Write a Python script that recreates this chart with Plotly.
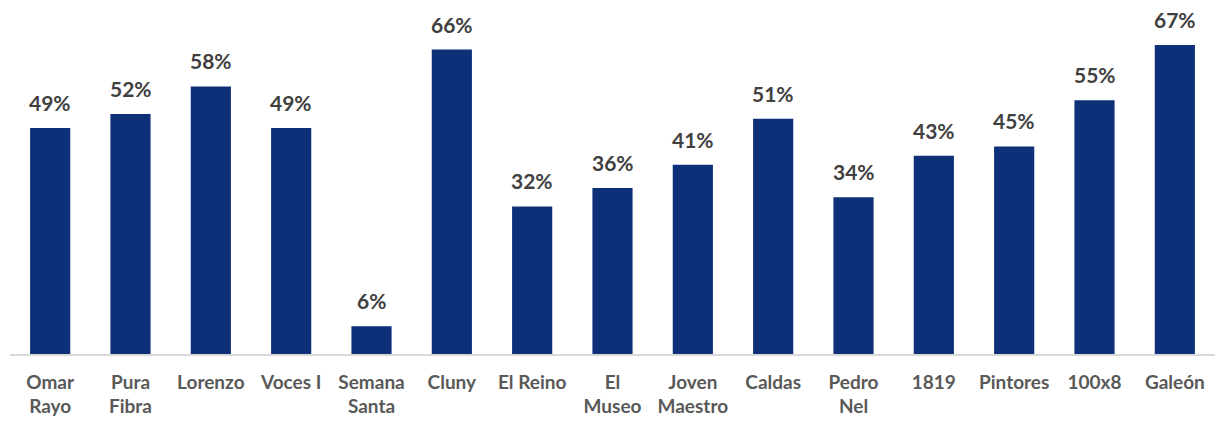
import plotly.graph_objects as go

# Share per project (percent)
categories = ["Omar<br>Rayo", "Pura<br>Fibra", "Lorenzo", "Voces I", "Semana<br>Santa",
              "Cluny", "El Reino", "El<br>Museo", "Joven<br>Maestro", "Caldas",
              "Pedro<br>Nel", "1819", "Pintores", "100x8", "Galeón"]
values = [49, 52, 58, 49, 6, 66, 32, 36, 41, 51, 34, 43, 45, 55, 67]

BAR_COLOR = "#0D3079"
TEXT_COLOR = "#404040"
FONT = "Lato, 'Open Sans', sans-serif"

fig = go.Figure()
fig.add_trace(go.Bar(
    x=categories,
    y=values,
    marker=dict(color=BAR_COLOR, line=dict(width=0)),
    hoverinfo="skip",
))

# Value labels above each bar (positioned by category index)
for i, v in enumerate(values):
    fig.add_annotation(
        x=i, y=v, text=f"<b>{v}%</b>", showarrow=False,
        yanchor="bottom", yshift=11,
        font=dict(family=FONT, size=21, color=TEXT_COLOR),
    )

fig.update_layout(
    width=1225, height=428,
    margin=dict(l=10, r=10, t=20, b=74),
    paper_bgcolor="white", plot_bgcolor="white",
    bargap=0.5,
    showlegend=False,
    font=dict(family=FONT, color=TEXT_COLOR),
    xaxis=dict(
        type="category",
        range=[-0.5, len(categories) - 0.5],
        showline=True, linecolor="#D9D9D9", linewidth=1.5,
        showgrid=False, ticks="", tickangle=0,
        tickfont=dict(family=FONT, size=19, color="#595959", weight="bold"),
        ticklabelstandoff=10,
    ),
    yaxis=dict(
        range=[0, 72.4], visible=False, showgrid=False, zeroline=False,
    ),
)

fig.write_html("out.html")
